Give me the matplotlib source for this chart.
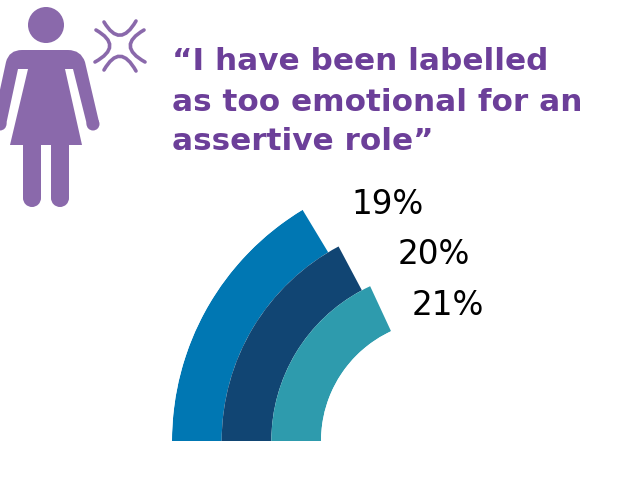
import matplotlib
matplotlib.use('Agg')
import matplotlib.pyplot as plt
import numpy as np
from matplotlib.path import Path
from matplotlib.patches import Circle, PathPatch

# share of respondents, outer ring first
values = [19, 20, 21]
labels = ['19%', '20%', '21%']
colors = ['#0077B3', '#114573', '#2E9BAD']
label_pos = [(351, 204), (398, 254), (412, 305)]

title_lines = ['\u201cI have been labelled', 'as too emotional for an', 'assertive role\u201d']
title_y = [62, 102, 141]

# sweep of each ring per percentage point
degrees_per_point = 3.1

W, H = 622, 486
PURPLE = '#8A69AB'
TITLE_PURPLE = '#6C3F99'

fig = plt.figure(figsize=(W / 100, H / 100), dpi=100, facecolor='white')

# gauge: polar axes centred at pixel (442, 441), outer radius 270 px
cx, cy, R = 442, 441, 270
pol = fig.add_axes([(cx - R) / W, (H - cy - R) / H, 2 * R / W, 2 * R / H], projection='polar')
pol.set_theta_zero_location('W')
pol.set_theta_direction(-1)
pol.set_rorigin(-2.436)
pol.set_rlim(0, 3)
pol.axis('off')
pol.patch.set_alpha(0)

for i, (v, c) in enumerate(zip(values, colors)):
    ring = 2.5 - i
    pol.barh(ring, np.deg2rad(v * degrees_per_point), height=1.0, left=0, color=c, edgecolor='none')

# pixel-coordinate overlay for text and the icon
ax = fig.add_axes([0, 0, 1, 1])
ax.set_xlim(0, W)
ax.set_ylim(H, 0)
ax.axis('off')
ax.patch.set_alpha(0)

for line, y in zip(title_lines, title_y):
    ax.text(172, y, line, fontsize=22.4, fontweight='bold', color=TITLE_PURPLE, va='center', ha='left')

for lab, (x, y) in zip(labels, label_pos):
    ax.text(x, y, lab, fontsize=23.5, color='black', va='center', ha='left')

# woman icon
ax.add_patch(Circle((46, 25), 18, color=PURPLE, lw=0))
body = [
    (Path.MOVETO, (82, 145)), (Path.LINETO, (65, 69)), (Path.LINETO, (73, 69)),
    (Path.LINETO, (87, 125)), (Path.LINETO, (99, 122)), (Path.LINETO, (85, 62)),
    (Path.CURVE3, (81, 50)), (Path.CURVE3, (68, 50)), (Path.LINETO, (22, 50)),
    (Path.CURVE3, (9, 50)), (Path.CURVE3, (6, 62)), (Path.LINETO, (-7, 122)),
    (Path.LINETO, (6, 125)), (Path.LINETO, (18, 69)), (Path.LINETO, (28, 69)),
    (Path.LINETO, (10, 145)), (Path.CLOSEPOLY, (82, 145)),
]
codes, verts = zip(*body)
ax.add_patch(PathPatch(Path(verts, codes), facecolor=PURPLE, edgecolor='none'))
ax.add_patch(Circle((93, 124), 6.5, color=PURPLE, lw=0))
ax.add_patch(Circle((0, 124), 6.5, color=PURPLE, lw=0))
for left in (23, 51):
    ax.add_patch(plt.Rectangle((left, 140), 18, 58, color=PURPLE, lw=0))
    ax.add_patch(Circle((left + 9, 198), 9, color=PURPLE, lw=0))

# anger mark, four curved strokes
strokes = [
    [(104, 22), (120, 49), (136, 21)],
    [(104, 70), (120, 42), (136, 71)],
    [(96, 30), (124, 46), (95, 62)],
    [(144, 30), (116, 46), (145, 62)],
]
for s in strokes:
    p = Path(s, [Path.MOVETO, Path.CURVE3, Path.CURVE3])
    ax.add_patch(PathPatch(p, facecolor='none', edgecolor=PURPLE, lw=2.6, capstyle='round'))

fig.savefig('out.png', dpi=100, facecolor='white')
